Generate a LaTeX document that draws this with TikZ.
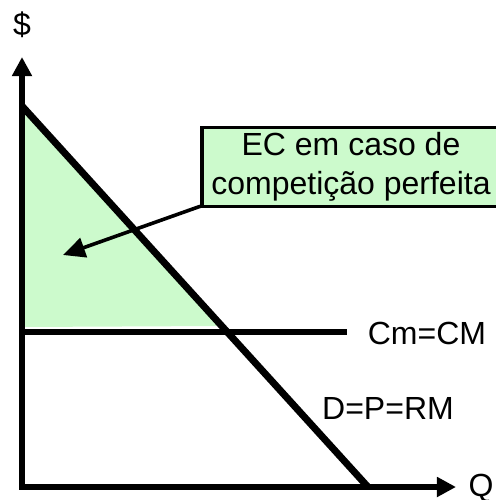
\documentclass[tikz,border=0pt]{standalone}
\usepackage{fontspec}
\setmainfont{Liberation Sans}
\usetikzlibrary{arrows.meta}
\definecolor{ecgreen}{RGB}{204,250,204}
\tikzset{
  axis/.style={line width=2.8pt,-{Triangle[length=9.5pt,width=9.5pt]}},
  curve/.style={line width=3.5pt},
  lbl/.style={font=\fontsize{16}{19.5}\selectfont,inner sep=0pt},
  callout/.style={draw,fill=ecgreen,line width=1.8pt,minimum width=149pt,minimum height=39.5pt,align=center,inner sep=0pt,font=\fontsize{16}{19.5}\selectfont},
  pointer/.style={line width=1.8pt,-{Triangle[length=11pt,width=10pt]}}
}
\begin{document}
\begin{tikzpicture}[x=0.5pt,y=-0.5pt]
\useasboundingbox (0,0) rectangle (496,500);
\clip (0,0) rectangle (496,500);
\coordinate (O) at (22,487);
\coordinate (Ytop) at (22,57);
\coordinate (Xend) at (456,487);
\coordinate (Dtop) at (22,106);
\coordinate (Dbot) at (368,487);
\coordinate (Hl) at (22,332);
\coordinate (Hr) at (347,332);
\coordinate (Tip) at (63,255);
% shaded area
\fill[ecgreen] (Dtop) -- (219,326) -- (22,327) -- cycle;
% curves
\draw[curve] (Dtop) -- (Dbot);
\draw[line width=3pt] (Hl) -- (Hr);
% axes
\draw[axis] (22,489.8) -- (Ytop);
\draw[axis] (19.2,487) -- (Xend);
% labels
\node[lbl] (dollar) at (22,25) {\$};
\node[lbl] (q) at (481,488) {Q};
\node[lbl] (cm) at (427,333) {Cm=CM};
\node[lbl] (dp) at (388,408) {D=P=RM};
% callout
\node[callout] (box) at (351,167) {EC em caso de\\competição perfeita};
\draw[pointer] (box.south west) ++(0,-2) -- (Tip);
\end{tikzpicture}
\end{document}
